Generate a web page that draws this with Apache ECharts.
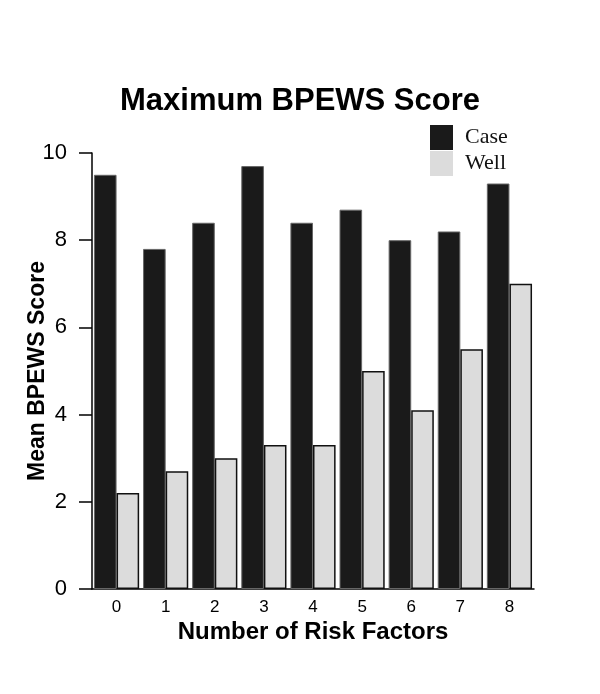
<!DOCTYPE html>
<html>
<head>
<meta charset="utf-8">
<script src="https://cdn.jsdelivr.net/npm/echarts@6/dist/echarts.min.js"></script>
<style>html,body{margin:0;padding:0;background:#fff}#c{width:600px;height:694px}</style>
</head>
<body>
<div id="c"></div>
<script>
const categories = ['0','1','2','3','4','5','6','7','8'];
const caseValues = [9.5, 7.8, 8.4, 9.7, 8.4, 8.7, 8.0, 8.2, 9.3];
const wellValues = [2.2, 2.7, 3.0, 3.3, 3.3, 5.0, 4.1, 5.5, 7.0];
const yTicks = [0, 2, 4, 6, 8, 10];

const chart = echarts.init(document.getElementById('c'), null, {renderer: 'canvas'});
const sans = 'Liberation Sans, Arial, sans-serif';
chart.setOption({
  animation: false,
  backgroundColor: '#fff',
  title: {
    text: 'Maximum BPEWS Score',
    left: 295, top: 81, textAlign: 'center',
    textStyle: {fontFamily: sans, fontWeight: 'bold', fontSize: 31, color: '#000'}
  },
  legend: {
    orient: 'vertical', left: 425, top: 120,
    itemWidth: 23, itemHeight: 25, itemGap: 1,
    icon: 'rect',
    textStyle: {fontFamily: 'Liberation Serif, Times New Roman, serif', fontSize: 22, color: '#111', padding: [0, 0, 0, 7]},
    data: [
      {name: 'Case', itemStyle: {color: '#1a1a1a', borderWidth: 0}},
      {name: 'Well', itemStyle: {color: '#dcdcdc', borderWidth: 0}}
    ]
  },
  grid: {left: 92, right: 66, top: 153, bottom: 105},
  xAxis: {
    type: 'category', data: categories,
    name: 'Number of Risk Factors', nameLocation: 'middle', nameGap: 31,
    nameMoveOverlap: false,
    nameTextStyle: {fontFamily: sans, fontWeight: 'bold', fontSize: 24, color: '#000'},
    axisLine: {lineStyle: {color: '#000', width: 1.5}},
    axisTick: {inside: true, length: 8, lineStyle: {color: '#000', width: 1.5}},
    axisLabel: {fontFamily: sans, fontSize: 17, color: '#000', margin: 10}
  },
  yAxis: {
    type: 'value', min: yTicks[0], max: yTicks[yTicks.length - 1], interval: 2,
    name: 'Mean BPEWS Score', nameLocation: 'middle', nameGap: 43, nameRotate: 90,
    nameMoveOverlap: false,
    nameTextStyle: {fontFamily: sans, fontWeight: 'bold', fontSize: 23, color: '#000'},
    splitLine: {show: false},
    axisLine: {show: true, lineStyle: {color: '#000', width: 1.5}},
    axisTick: {show: true, length: 13, lineStyle: {color: '#000', width: 1.5}},
    axisLabel: {fontFamily: sans, fontSize: 22, color: '#000', margin: 25}
  },
  series: [
    {
      name: 'Case', type: 'bar', data: caseValues,
      barGap: '0%', barCategoryGap: '8%',
      itemStyle: {color: '#1a1a1a', borderColor: '#666', borderWidth: 1}
    },
    {
      name: 'Well', type: 'bar', data: wellValues,
      barGap: '0%', barCategoryGap: '8%',
      itemStyle: {color: '#dcdcdc', borderColor: '#111', borderWidth: 1.5}
    }
  ]
});
</script>
</body>
</html>
